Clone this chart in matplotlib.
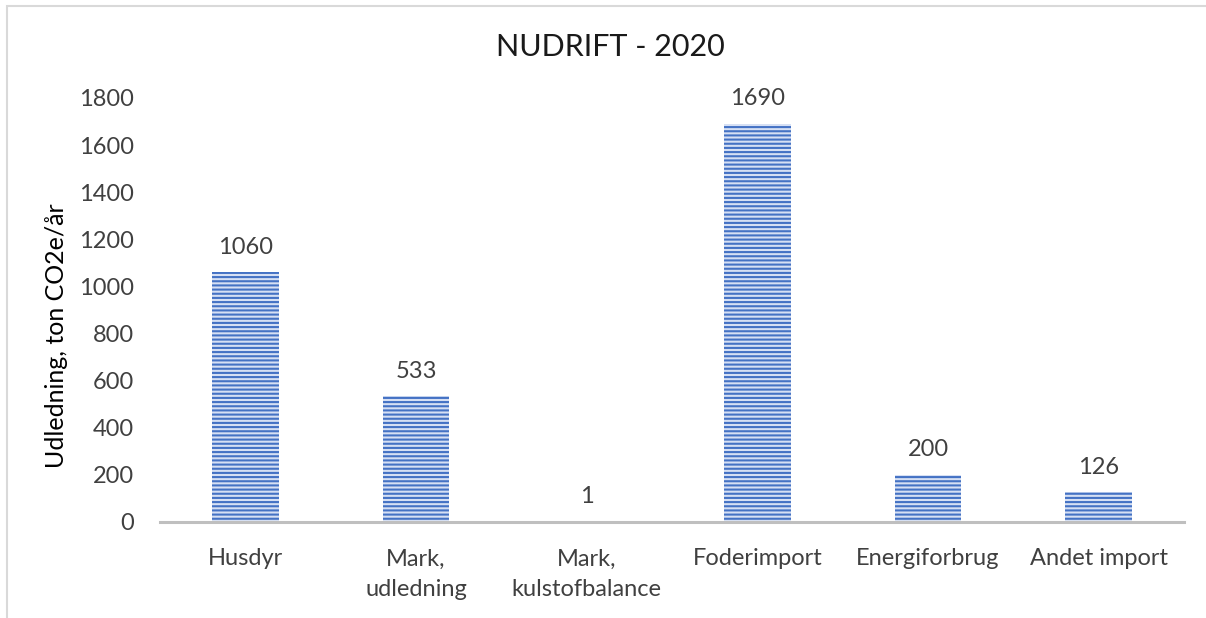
import matplotlib
matplotlib.use('Agg')
from matplotlib import pyplot as plt
from matplotlib.patches import Rectangle
import numpy as np

categories = ['Husdyr', 'Mark,\nudledning', 'Mark,\nkulstofbalance', 'Foderimport', 'Energiforbrug', 'Andet import']
values = [1060, 533, 1, 1690, 200, 126]
yticks = [0, 200, 400, 600, 800, 1000, 1200, 1400, 1600, 1800]

plt.rcParams['font.family'] = ['Lato', 'DejaVu Sans']
plt.rcParams['hatch.linewidth'] = 1.5
txt = '#404040'

fig = plt.figure(figsize=(12.06, 6.18), dpi=100)
ax = fig.add_axes([160 / 1206, 96 / 618, 1024 / 1206, 424 / 618])

x = np.arange(len(categories))
bars = ax.bar(x, values, width=0.39, color='#d6e0f4', edgecolor='#4472C4',
              linewidth=0, hatch='----')

for xi, v in zip(x, values):
    ax.annotate(str(v), (xi, v), xytext=(0, 18), textcoords='offset points',
                ha='center', va='center', fontsize=17, color=txt)

ax.set_xlim(-0.5, len(categories) - 0.5)
ax.set_ylim(0, 1800)
ax.set_yticks(yticks)
ax.set_xticks(x)
ax.set_xticklabels(categories, fontsize=17, color=txt, linespacing=1.55)
ax.tick_params(axis='y', length=0, pad=19, labelsize=17, labelcolor=txt)
ax.tick_params(axis='x', length=0, pad=19)

for s in ['top', 'right', 'left']:
    ax.spines[s].set_visible(False)
ax.spines['bottom'].set_color('#bfbfbf')
ax.spines['bottom'].set_linewidth(2.2)

ax.set_ylabel('Udledning, ton CO2e/år', fontsize=18, color='black')
ax.yaxis.set_label_coords(-0.09, 0.44)

fig.text(0.506, 1 - 47 / 618, 'NUDRIFT - 2020', ha='center', va='center',
         fontsize=22, color='#1a1a1a')

# chart frame (only top and left edges are visible in the crop)
fig.add_artist(Rectangle((7 / 1206, -1), 2, 1 + (1 - 6 / 618), fill=False,
                         edgecolor='#d9d9d9', linewidth=1.5, transform=fig.transFigure))

fig.savefig('out.png', dpi=100)
